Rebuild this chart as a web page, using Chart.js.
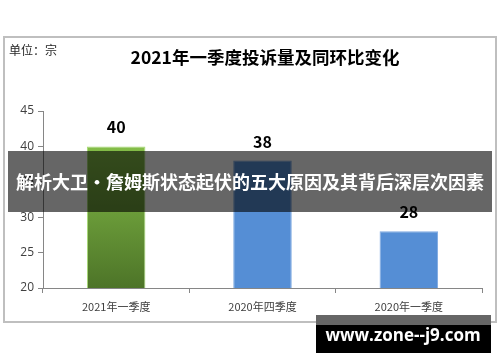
<!DOCTYPE html>
<html>
<head>
<meta charset="utf-8">
<script src="https://cdn.jsdelivr.net/npm/chart.js@4/dist/chart.umd.min.js"></script>
<style>
  html, body { margin: 0; padding: 0; background: #fff; }
  #wrap { width: 500px; height: 362px; position: relative; }
</style>
</head>
<body>
<div id="wrap"><canvas id="chart" width="500" height="362"></canvas></div>
<script>
// chart data
const categories = ['2021年一季度', '2020年四季度', '2020年一季度'];
const complaints = [40, 38, 28];
const yTicks = [20, 25, 30, 35, 40, 45];

const chartTitle = '2021年一季度投诉量及同环比变化';
const unitLabel = '单位：宗';
const bannerText = '解析大卫·詹姆斯状态起伏的五大原因及其背后深层次因素';
const watermark = 'www.zone--j9.com';

const fontFamily = '"Noto Sans CJK SC", "Open Sans", sans-serif';

// green gradient for the first bar, flat blue for the others
function barColor(ctx) {
  if (ctx.dataIndex !== 0) return '#558ed5';
  const chart = ctx.chart;
  const area = chart.chartArea;
  if (!area) return '#6fa83c';
  const g = chart.ctx.createLinearGradient(0, area.top, 0, area.bottom);
  g.addColorStop(0, '#92d050');
  g.addColorStop(1, '#4d7428');
  return g;
}

const decorations = {
  id: 'decorations',
  beforeDraw(chart) {
    const c = chart.ctx;
    c.save();
    c.fillStyle = '#fff';
    c.fillRect(0, 0, chart.width, chart.height);
    // frame
    c.strokeStyle = '#bfbfbf';
    c.lineWidth = 2;
    c.strokeRect(4, 37, 492, 285);
    // unit + title
    c.fillStyle = '#262626';
    c.font = '12px ' + fontFamily;
    c.textBaseline = 'middle';
    c.textAlign = 'left';
    c.fillText(unitLabel, 9, 50);
    c.fillStyle = '#000';
    c.font = 'bold 17.5px ' + fontFamily;
    c.textAlign = 'center';
    c.fillText(chartTitle, 265, 57);
    c.restore();
  },
  afterDraw(chart) {
    const c = chart.ctx;
    const meta = chart.getDatasetMeta(0);
    c.save();
    // value labels
    c.fillStyle = '#000';
    c.font = 'bold 16px ' + fontFamily;
    c.textAlign = 'center';
    c.textBaseline = 'middle';
    meta.data.forEach((bar, i) => {
      c.fillText(String(complaints[i]), bar.x, bar.y - 19);
    });
    // banner overlay
    c.fillStyle = 'rgba(0,0,0,0.6)';
    c.fillRect(8, 151, 484, 61);
    c.fillStyle = '#fff';
    c.font = 'bold 18px ' + fontFamily;
    c.fillText(bannerText, 250, 182);
    // watermark box
    c.fillStyle = '#666';
    c.fillRect(316, 315, 175, 10);
    c.fillStyle = '#000';
    c.fillRect(316, 325, 175, 28);
    c.fillStyle = '#fff';
    c.font = 'bold 17px "Open Sans", sans-serif';
    c.fillText(watermark, 403, 336);
    c.restore();
  }
};

new Chart(document.getElementById('chart'), {
  type: 'bar',
  data: {
    labels: categories,
    datasets: [{
      data: complaints,
      backgroundColor: barColor,
      borderColor: ctx => ctx.dataIndex === 0 ? '#a6dc72' : '#7ea9e1',
      borderWidth: 1,
      categoryPercentage: 1,
      barPercentage: 0.4
    }]
  },
  options: {
    responsive: false,
    animation: false,
    events: [],
    layout: { padding: { top: 111, right: 18, left: 0, bottom: 0 } },
    plugins: {
      legend: { display: false },
      tooltip: { enabled: false },
      title: { display: false }
    },
    scales: {
      x: {
        afterFit(scale) { scale.height = 74; },
        grid: {
          offset: true,
          drawOnChartArea: false,
          drawTicks: true,
          tickLength: 5,
          color: '#868686'
        },
        border: { color: '#868686', width: 1 },
        ticks: {
          color: '#404040',
          padding: 7,
          font: { size: 11, family: fontFamily }
        }
      },
      y: {
        min: yTicks[0],
        max: yTicks[yTicks.length - 1],
        afterFit(scale) { scale.width = 43; },
        afterBuildTicks(scale) { scale.ticks = yTicks.map(v => ({ value: v })); },
        grid: {
          drawOnChartArea: false,
          drawTicks: true,
          tickLength: 5,
          color: '#868686'
        },
        border: { color: '#868686', width: 1 },
        ticks: {
          color: '#404040',
          padding: 4,
          font: { size: 12, family: '"Open Sans", sans-serif' }
        }
      }
    }
  },
  plugins: [decorations]
});
</script>
</body>
</html>
